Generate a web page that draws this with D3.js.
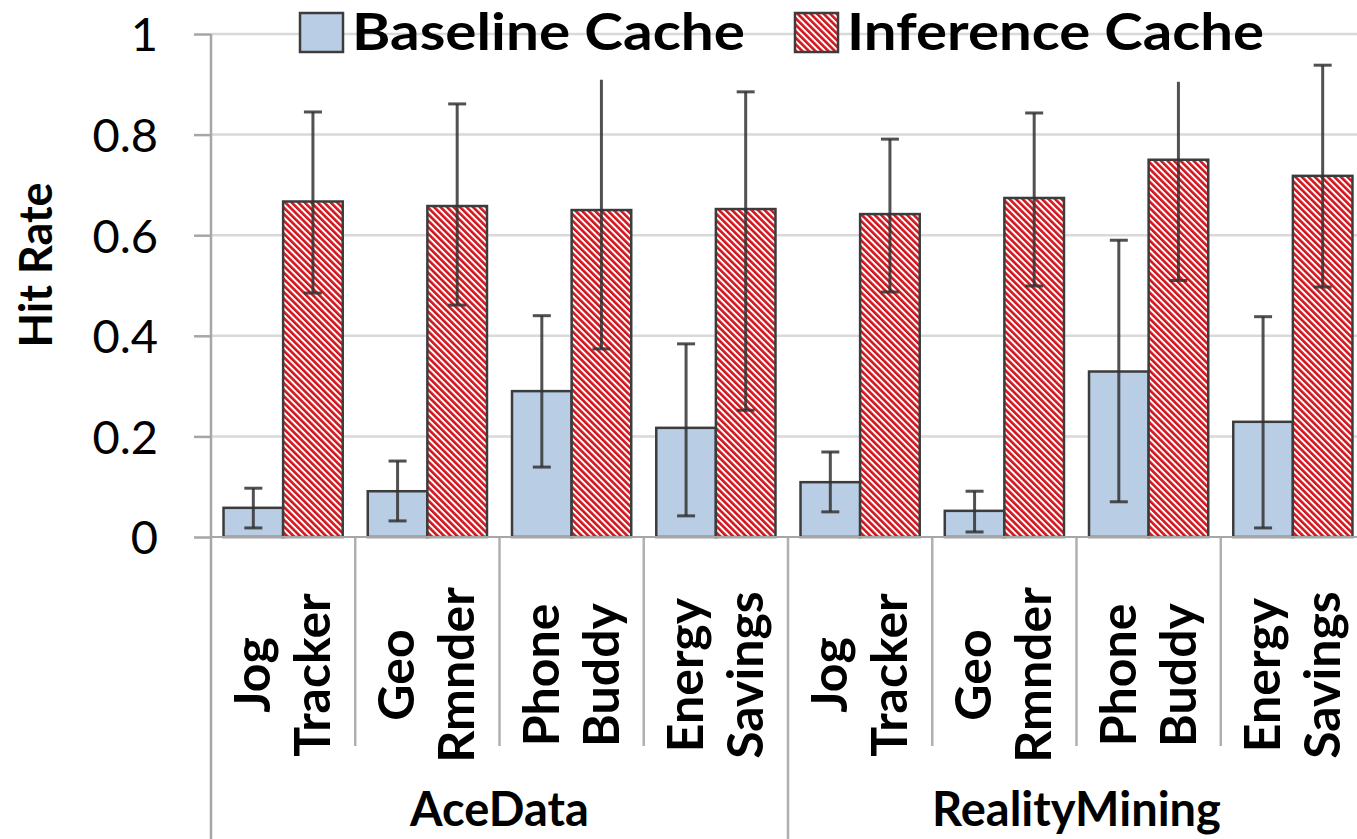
<!DOCTYPE html>
<html>
<head>
<meta charset="utf-8">
<script src="https://cdn.jsdelivr.net/npm/d3@7"></script>
<style>
  body { margin: 0; background: #fff; }
  svg text { font-family: Lato, "Open Sans", sans-serif; fill: #000; }
</style>
</head>
<body>
<svg id="chart" width="1357" height="839"></svg>
<script>
// data
var datasets = ["AceData", "RealityMining"];
var apps = ["Jog Tracker", "Geo Rmnder", "Phone Buddy", "Energy Savings"];
var series = ["Baseline Cache", "Inference Cache"];
var baseline = [0.058, 0.091, 0.29, 0.217, 0.109, 0.052, 0.329, 0.229];
var baseLo   = [0.018, 0.032, 0.139, 0.042, 0.05, 0.01, 0.07, 0.018];
var baseHi   = [0.097, 0.151, 0.44, 0.384, 0.169, 0.091, 0.59, 0.438];
var inference = [0.667, 0.658, 0.65, 0.652, 0.642, 0.674, 0.75, 0.718];
var infLo     = [0.485, 0.461, 0.374, 0.252, 0.487, 0.499, 0.51, 0.497];
var infHi     = [0.845, 0.861, 0.909, 0.885, 0.791, 0.843, 0.905, 0.938];
var infTopCap = [true, true, false, true, true, true, false, true];
var yTicks = [0, 0.2, 0.4, 0.6, 0.8, 1];

var rows = [];
datasets.forEach(function(ds, d) {
    apps.forEach(function(app, a) {
        var i = d * apps.length + a;
        rows.push({ key: ds + "|" + app, ds: ds, app: app, i: i });
    });
});

var svg = d3.select("#chart");
var defs = svg.append("defs");
var pat = defs.append("pattern").attr("id", "hatch")
    .attr("patternUnits", "userSpaceOnUse")
    .attr("width", 4.6).attr("height", 10)
    .attr("patternTransform", "rotate(-45)");
pat.append("rect").attr("width", 4.6).attr("height", 10).attr("fill", "#fff");
pat.append("rect").attr("width", 2.6).attr("height", 10).attr("fill", "#d2141c");

var x = d3.scaleBand().domain(rows.map(function(r) { return r.key; }))
    .range([211, 1365]).paddingInner(0).paddingOuter(0);
var xs = d3.scaleBand().domain(series).range([0, x.bandwidth()]).paddingOuter(0.21).paddingInner(0);
var y = d3.scaleLinear().domain([0, 1]).range([537, 34]);

// gridlines
svg.append("g").selectAll("line").data(yTicks.slice(1)).join("line")
    .attr("x1", 211).attr("x2", 1365)
    .attr("y1", function(d) { return y(d); }).attr("y2", function(d) { return y(d); })
    .attr("stroke", "#d9d9d9").attr("stroke-width", 2.5);

// y axis
var yAxis = svg.append("g").attr("transform", "translate(211,0)")
    .call(d3.axisLeft(y).tickValues(yTicks).tickSize(17).tickPadding(36)
        .tickFormat(function(d) { return d === 0 || d === 1 ? d : d3.format(".1f")(d); }));
yAxis.select(".domain").remove();
yAxis.selectAll(".tick line").attr("stroke", "#a6a6a6").attr("stroke-width", 2.5);
yAxis.selectAll(".tick text").attr("font-size", 47).attr("dy", "0.36em")
    .style("font-family", "Lato, sans-serif");
svg.append("line").attr("x1", 211).attr("x2", 211).attr("y1", y(1)).attr("y2", 839)
    .attr("stroke", "#a6a6a6").attr("stroke-width", 2.5);

svg.append("text").attr("transform", "translate(52,265) rotate(-90)")
    .attr("text-anchor", "middle").attr("font-size", 45).attr("font-weight", "bold")
    .text("Hit Rate");

// category separators
var seps = d3.range(1, rows.length + 1);
svg.append("g").selectAll("line").data(seps).join("line")
    .attr("x1", function(i) { return 211 + i * x.step(); })
    .attr("x2", function(i) { return 211 + i * x.step(); })
    .attr("y1", 537)
    .attr("y2", function(i) { return i % apps.length === 0 ? 839 : 746; })
    .attr("stroke", "#b0b0b0").attr("stroke-width", 2.5);

// bars
var g = svg.append("g");
var groups = g.selectAll("g").data(rows).join("g")
    .attr("transform", function(r) { return "translate(" + x(r.key) + ",0)"; });

groups.append("rect")
    .attr("x", xs("Baseline Cache")).attr("width", xs.bandwidth())
    .attr("y", function(r) { return y(baseline[r.i]); })
    .attr("height", function(r) { return y(0) - y(baseline[r.i]); })
    .attr("fill", "#b9cde5").attr("stroke", "#3c3c3c").attr("stroke-width", 2.5);
groups.append("rect")
    .attr("x", xs("Inference Cache")).attr("width", xs.bandwidth())
    .attr("y", function(r) { return y(inference[r.i]); })
    .attr("height", function(r) { return y(0) - y(inference[r.i]); })
    .attr("fill", "url(#hatch)").attr("stroke", "#3c3c3c").attr("stroke-width", 2.5);

// error bars
function errBar(sel, name, lo, hi, topCap) {
    var cx = xs(name) + xs.bandwidth() / 2;
    var eg = sel.append("g").attr("stroke", "#333").attr("stroke-width", 3).attr("stroke-opacity", 0.85);
    eg.append("line").attr("x1", cx).attr("x2", cx)
        .attr("y1", function(r) { return y(lo[r.i]); })
        .attr("y2", function(r) { return y(hi[r.i]); });
    eg.append("line").attr("x1", cx - 9).attr("x2", cx + 9)
        .attr("y1", function(r) { return y(lo[r.i]); })
        .attr("y2", function(r) { return y(lo[r.i]); });
    eg.filter(function(r) { return topCap ? topCap[r.i] : true; })
        .append("line").attr("x1", cx - 9).attr("x2", cx + 9)
        .attr("y1", function(r) { return y(hi[r.i]); })
        .attr("y2", function(r) { return y(hi[r.i]); });
}
errBar(groups, "Baseline Cache", baseLo, baseHi, null);
errBar(groups, "Inference Cache", infLo, infHi, infTopCap);

// baseline axis
svg.append("line").attr("x1", 211).attr("x2", 1365).attr("y1", 537).attr("y2", 537)
    .attr("stroke", "#a6a6a6").attr("stroke-width", 2);

// category labels (two rotated lines each)
var lab = svg.append("g").selectAll("text").data(rows).join("text")
    .attr("transform", function(r) {
        return "translate(" + (x(r.key) + x.bandwidth() / 2) + ",675) rotate(-90)";
    })
    .attr("text-anchor", "middle").attr("font-size", 50).attr("font-weight", "bold");
lab.each(function(r) {
    var words = r.app.split(" ");
    var t = d3.select(this);
    t.append("tspan").attr("x", 0).attr("y", -13).text(words[0]);
    t.append("tspan").attr("x", 0).attr("y", 47).text(words[1]);
});

// dataset labels
svg.append("g").selectAll("text").data(datasets).join("text")
    .attr("x", function(d, k) { return 211 + (k * apps.length + apps.length / 2) * x.step(); })
    .attr("y", 826).attr("text-anchor", "middle")
    .attr("font-size", 47).attr("font-weight", "bold")
    .text(function(d) { return d; });

// legend
var legX = [300, 795];
var legLen = [393, 417];
var leg = svg.append("g").selectAll("g").data(series).join("g")
    .attr("transform", function(d, k) { return "translate(" + legX[k] + ",13)"; });
leg.append("rect").attr("width", 43).attr("height", 39)
    .attr("fill", function(d, k) { return k === 0 ? "#b9cde5" : "url(#hatch)"; })
    .attr("stroke", "#3c3c3c").attr("stroke-width", 2.5);
leg.append("text").attr("x", 52).attr("y", 37)
    .attr("font-size", 51).attr("font-weight", "bold")
    .attr("textLength", function(d, k) { return legLen[k]; })
    .attr("lengthAdjust", "spacingAndGlyphs")
    .text(function(d) { return d; });
</script>
</body>
</html>
